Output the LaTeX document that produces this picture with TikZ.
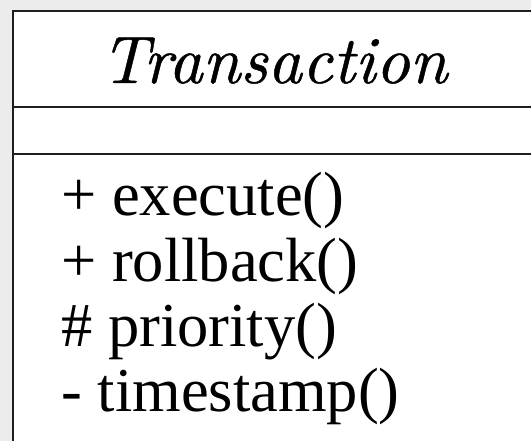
\documentclass[tikz,border=0pt]{standalone}
\usepackage{fontspec}
\setmainfont{Liberation Serif}
% serif italic for the class name, slightly emboldened
\newfontfamily\nameface{lmroman10-italic}[Extension=.otf, FakeBold=0.7]
\definecolor{pagegray}{RGB}{236,236,236}
\definecolor{rulegray}{RGB}{30,30,30}
\tikzset{
  rule/.style={draw=rulegray, line width=1.7pt},
  classname/.style={inner sep=0pt, anchor=base, font=\fontsize{67}{74}\nameface},
  operation/.style={inner sep=0pt, anchor=base west, font=\fontsize{62.5}{66}\selectfont},
}
\begin{document}
\begin{tikzpicture}[x=1pt,y=1pt]
  % canvas: 531 x 441, y measured upwards from the bottom edge
  \useasboundingbox (0,0) rectangle (531,441);
  \fill[pagegray] (0,0) rectangle (531,441);
  \begin{scope}
    \clip (0,0) rectangle (531,441);
    % class box, running past the right and bottom edges
    \fill[white] (13,430) rectangle (560,-20);
    \draw[rule] (560,430) -- (13,430) -- (13,-20);
    % compartment separators
    \draw[rule] (13,334) -- (560,334);
    \draw[rule] (13,287) -- (560,287);
  \end{scope}
  % class name
  \node[classname] (name) at (274,358) {Transaction};
  % operations compartment
  \node[operation] (op1) at (61,225) {+ execute()};
  \node[operation] (op2) at (61,159.5) {+ rollback()};
  \node[operation] (op3) at (61,94) {\# priority()};
  \node[operation] (op4) at (61,29) {- timestamp()};
\end{tikzpicture}
\end{document}
